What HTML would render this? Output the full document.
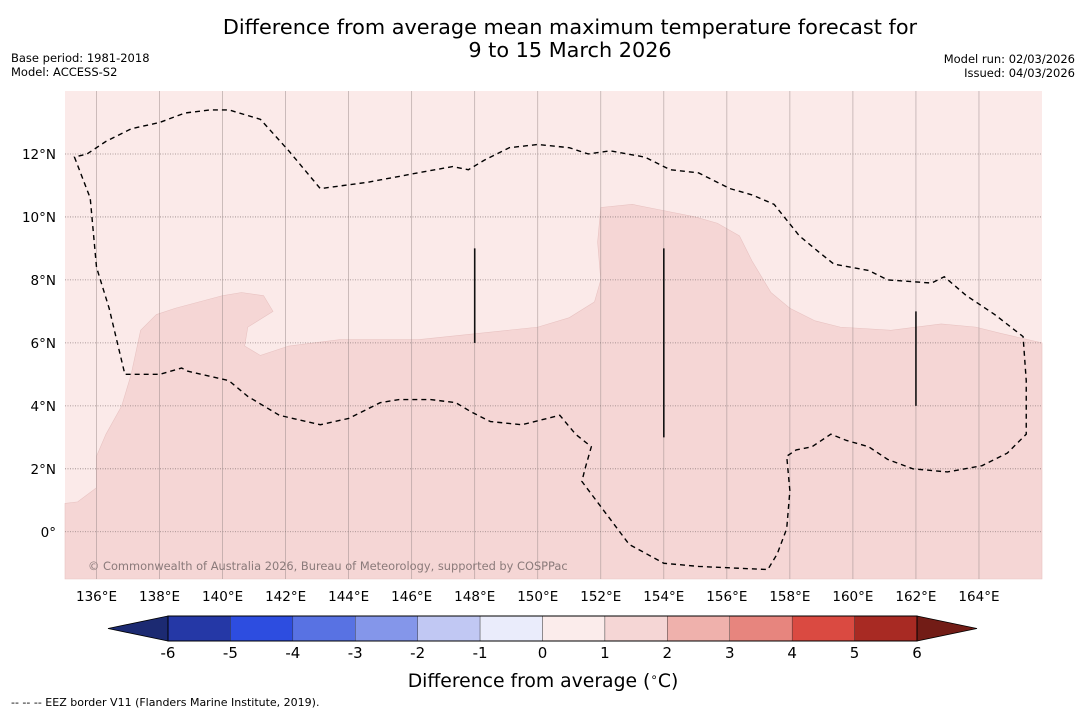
<!DOCTYPE html>
<html><head><meta charset="utf-8"><style>
body{margin:0;background:#fff;width:1085px;height:713px;overflow:hidden;font-family:"DejaVu Sans","Liberation Sans",sans-serif;}
svg{display:block}
</style></head><body>
<svg id="chart" width="1085" height="713" font-family="DejaVu Sans, Liberation Sans, sans-serif">
<text x="570" y="34" font-size="20.8" text-anchor="middle">Difference from average mean maximum temperature forecast for</text>
<text x="570" y="57" font-size="20.8" text-anchor="middle">9 to 15 March 2026</text>
<text x="11" y="62" font-size="11.5">Base period: 1981-2018</text>
<text x="11" y="76" font-size="11.5">Model: ACCESS-S2</text>
<text x="1075" y="63" font-size="11.5" text-anchor="end">Model run: 02/03/2026</text>
<text x="1075" y="77" font-size="11.5" text-anchor="end">Issued: 04/03/2026</text>
<g id="map"></g>
<g id="cbar"></g>
<text x="543" y="687" font-size="18.8" text-anchor="middle">Difference from average (<tspan font-size="12" dy="-6">∘</tspan><tspan dy="6">C)</tspan></text>
<text x="11" y="706" font-size="11">--  --  -- EEZ border V11 (Flanders Marine Institute, 2019).</text>
</svg>
<script>
const lonTicks=[136,138,140,142,144,146,148,150,152,154,156,158,160,162,164];
const latTicks=[0,2,4,6,8,10,12];
const cbLevels=[-6,-5,-4,-3,-2,-1,0,1,2,3,4,5,6];
const cbColors=["#2538a6","#2d4de0","#5872e3","#8496ea","#c1c8f3","#eaecfb","#fbeceb","#f5d6d5","#efb1ac","#e7857e","#da4a41","#a82a23"];
const extLow="#1c2a72", extHigh="#721c16";
const warmRegion=[[135,-1.5],[135,0.9],[135.4,0.95],[136,1.4],[136,2.4],[136.3,3.1],[136.8,4],[137.1,5],[137.4,6.4],[137.9,6.9],[138.5,7.1],[140,7.5],[140.6,7.6],[141.3,7.5],[141.6,7],[140.8,6.5],[140.7,5.9],[141.2,5.6],[142.1,5.9],[143.7,6.1],[146.2,6.1],[148.1,6.3],[150,6.5],[151,6.8],[151.8,7.3],[152,8],[151.9,9.2],[152,10.3],[153,10.4],[154,10.2],[155,10],[155.7,9.8],[156.4,9.4],[156.8,8.6],[157.4,7.6],[158,7.1],[158.8,6.7],[159.6,6.5],[161.2,6.4],[162.8,6.6],[163.9,6.5],[164.7,6.3],[166,6],[166,-1.5]];
const eez=[[135.3,11.9],[135.8,10.6],[136,8.4],[136.4,7.1],[136.9,5],[138,5],[138.7,5.2],[138.9,5.1],[140.2,4.8],[140.8,4.3],[141.8,3.7],[143.1,3.4],[144,3.6],[145,4.1],[145.6,4.2],[146.6,4.2],[147.4,4.1],[147.9,3.8],[148.5,3.5],[149.5,3.4],[150.3,3.6],[150.7,3.7],[151.2,3.1],[151.7,2.7],[151.5,2],[151.4,1.6],[152,0.8],[152.9,-0.4],[154,-1],[155.1,-1.1],[157.3,-1.2],[157.6,-0.7],[157.9,0.1],[158,1.3],[157.9,2.4],[158.2,2.6],[158.7,2.7],[159.3,3.1],[159.8,2.9],[160.5,2.7],[161.1,2.3],[161.9,2],[163,1.9],[164.1,2.1],[164.9,2.5],[165.5,3.1],[165.5,4.8],[165.4,6.2],[164.5,6.9],[163.6,7.5],[162.9,8.1],[162.5,7.9],[161.1,8],[160.5,8.3],[159.4,8.5],[158.9,8.9],[158.3,9.4],[157.5,10.4],[156.8,10.7],[156.1,10.9],[155.1,11.4],[154.2,11.5],[153.4,11.9],[152.3,12.1],[151.6,12],[151,12.2],[150,12.3],[149.1,12.2],[148.3,11.8],[147.8,11.5],[147.3,11.6],[146.2,11.4],[144.6,11.1],[143.1,10.9],[142.1,12.1],[141.2,13.1],[140.2,13.4],[139.6,13.4],[138.8,13.3],[138,13],[137.1,12.8],[136.3,12.4],[135.7,12]];
const ridges=[[148,9,6],[154,9,3],[162,7,4]];
const X0=65,X1=1042,Y0=91,Y1=579,LON0=135,LON1=166,LAT0=14,LAT1=-1.5;
const sx=l=>X0+(l-LON0)/(LON1-LON0)*(X1-X0);
const sy=l=>Y0+(l-LAT0)/(LAT1-LAT0)*(Y1-Y0);
const NS="http://www.w3.org/2000/svg";
function mk(parent,tag,attrs){const e=document.createElementNS(NS,tag);for(const k in attrs)e.setAttribute(k,attrs[k]);parent.appendChild(e);return e;}
const map=document.getElementById('map');
let e=mk(map,'rect',{x:X0,y:Y0,width:X1-X0,height:Y1-Y0,fill:"#fbeae9"});


e=mk(map,'polygon',{points:warmRegion.map(p=>sx(p[0])+','+sy(p[1])).join(' '),fill:"#f5d6d5",stroke:"#e8c3c2","stroke-width":0.6});


lonTicks.forEach(l=>{
  const x=sx(l);
  let g=mk(map,'line',{x1:x,x2:x,y1:Y0,y2:Y1,stroke:"#9a8a8a","stroke-width":0.7,"stroke-opacity":0.7});
  
  
  let t=mk(map,'text',{x:x,y:601,"font-size":13.5,"text-anchor":"middle"});t.textContent=l+"°E";
  
  
});
latTicks.forEach(l=>{
  const y=sy(l);
  let g=mk(map,'line',{x1:X0,x2:X1,y1:y,y2:y,stroke:"#7a6a6a","stroke-width":0.8,"stroke-dasharray":"1,1.5","stroke-opacity":0.8});
  
  
  let t=mk(map,'text',{x:56,y:y+5,"font-size":13.5,"text-anchor":"end"});t.textContent=l===0?"0°":l+"°N";
  
  
});
e=mk(map,'polygon',{points:eez.map(p=>sx(p[0])+','+sy(p[1])).join(' '),fill:"none",stroke:"#000","stroke-width":1.4,"stroke-dasharray":"5,4"});


ridges.forEach(r=>{
  let l=mk(map,'line',{x1:sx(r[0]),x2:sx(r[0]),y1:sy(r[1]),y2:sy(r[2]),stroke:"#111","stroke-width":1.6});
  
  
});
e=mk(map,'text',{x:88,y:570,"font-size":11.4,fill:"#8a7a7a"});e.textContent="© Commonwealth of Australia 2026, Bureau of Meteorology, supported by COSPPac";


const cb=document.getElementById('cbar');
const CX0=168,CX1=917,CY0=616,CY1=641;
const cx=v=>CX0+(v-cbLevels[0])/(cbLevels[cbLevels.length-1]-cbLevels[0])*(CX1-CX0);
e=mk(cb,'polygon',{points:`${CX0},${CY0} 108,${(CY0+CY1)/2} ${CX0},${CY1}`,fill:extLow,stroke:"#000","stroke-width":0.8});


e=mk(cb,'polygon',{points:`${CX1},${CY0} 977,${(CY0+CY1)/2} ${CX1},${CY1}`,fill:extHigh,stroke:"#000","stroke-width":0.8});


cbColors.forEach((c,i)=>{
  const a=cx(cbLevels[i]),b=cx(cbLevels[i+1]);
  let r=mk(cb,'rect',{x:a,y:CY0,width:b-a,height:CY1-CY0,fill:c,stroke:"#333","stroke-width":0.4});
  
  
});
e=mk(cb,'rect',{x:CX0,y:CY0,width:CX1-CX0,height:CY1-CY0,fill:"none",stroke:"#000","stroke-width":1});


cbLevels.forEach(v=>{
  let t=mk(cb,'text',{x:cx(v),y:658,"font-size":15,"text-anchor":"middle"});t.textContent=v;
  
  
});
</script>
</body></html>
